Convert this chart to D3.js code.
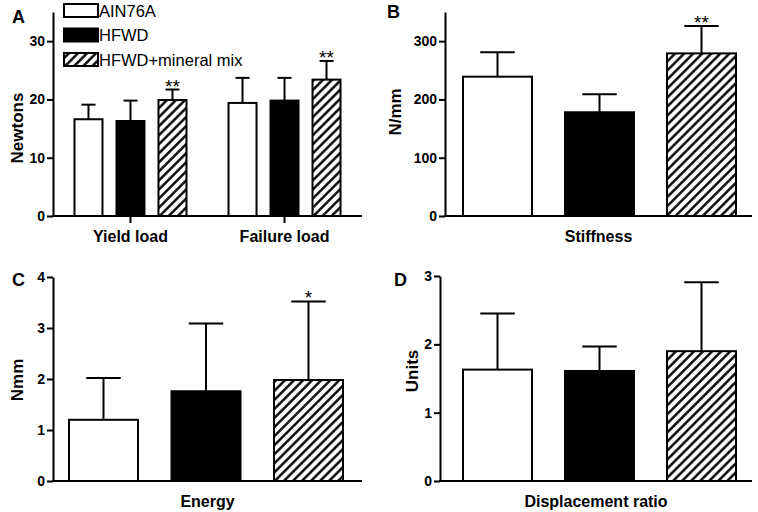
<!DOCTYPE html>
<html><head><meta charset="utf-8">
<script src="https://cdn.jsdelivr.net/npm/d3@7"></script>
<style>
html,body{margin:0;padding:0;background:#fff;}
svg text{font-family:"Liberation Sans",Arial,sans-serif;}
</style></head>
<body>
<svg id="chart" width="758" height="512"></svg>
<script>
// ---- data ----
const series = ["AIN76A", "HFWD", "HFWD+mineral mix"];
const groupsA = ["Yield load", "Failure load"];
const meanA = [[16.6, 16.3, 19.9], [19.4, 19.8, 23.4]];
const errA  = [[2.5, 3.5, 1.8], [4.3, 3.9, 3.2]];
const sigA  = [["", "", "**"], ["", "", "**"]];
const ticksA = [0, 10, 20, 30];

const groupsB = ["Stiffness"];
const meanB = [[239, 178, 279]];
const errB  = [[42, 31, 47]];
const sigB  = [["", "", "**"]];
const ticksB = [0, 100, 200, 300];

const groupsC = ["Energy"];
const meanC = [[1.2, 1.76, 1.98]];
const errC  = [[0.82, 1.33, 1.54]];
const sigC  = [["", "", "*"]];
const ticksC = [0, 1, 2, 3, 4];

const groupsD = ["Displacement ratio"];
const meanD = [[1.63, 1.61, 1.90]];
const errD  = [[0.82, 0.36, 1.01]];
const sigD  = [["", "", ""]];
const ticksD = [0, 1, 2, 3];

const svg = d3.select("#chart");
const defs = svg.append("defs");
const P = 6.4;
const pat = defs.append("pattern").attr("id","hatch").attr("patternUnits","userSpaceOnUse")
  .attr("width",P).attr("height",P).attr("patternTransform","rotate(45)");
pat.append("rect").attr("width",P).attr("height",P).attr("fill","#fff");
pat.append("line").attr("x1",P/2).attr("y1",0).attr("x2",P/2).attr("y2",P).attr("stroke","#000").attr("stroke-width",2.4);

const fills = ["#fff", "#000", "url(#hatch)"];

function panel(cfg) {
  const g = svg.append("g");
  const y = d3.scaleLinear().domain([0, cfg.max]).range([cfg.y0, cfg.yTop]);
  const xg = d3.scalePoint().domain(cfg.groups).range([cfg.x0, cfg.x1]).padding(cfg.pad);
  const xs = d3.scalePoint().domain(series).range([-cfg.spacing, cfg.spacing]);
  const bw = cfg.bw;

  cfg.groups.forEach((grp, gi) => {
    const cx = xg(grp) + (cfg.shift || 0);
    series.forEach((s, si) => {
      const xc = cx + xs(s);
      const v = cfg.mean[gi][si], e = cfg.err[gi][si];
      g.append("line").attr("x1", xc).attr("x2", xc).attr("y1", y(v)).attr("y2", y(v + e))
        .attr("stroke", "#000").attr("stroke-width", 2);
      g.append("line").attr("x1", xc - bw/4).attr("x2", xc + bw/4).attr("y1", y(v + e)).attr("y2", y(v + e))
        .attr("stroke", "#000").attr("stroke-width", 2);
      g.append("rect").attr("x", xc - bw/2).attr("y", y(v)).attr("width", bw).attr("height", y(0) - y(v))
        .attr("fill", fills[si]).attr("stroke", "#000").attr("stroke-width", 2);
      if (cfg.sig[gi][si]) {
        g.append("text").attr("x", xc).attr("y", y(v + e) + 3).attr("text-anchor", "middle")
          .attr("font-size", 19).text(cfg.sig[gi][si]);
      }
    });
    if (cfg.xtick) {
      g.append("line").attr("x1", xg(grp)).attr("x2", xg(grp)).attr("y1", cfg.y0).attr("y2", cfg.y0 + 7)
        .attr("stroke", "#000").attr("stroke-width", 2);
    }
    g.append("text").attr("x", xg(grp) + (cfg.labShift || 0)).attr("y", cfg.y0 + 26).attr("text-anchor", "middle")
      .attr("font-size", 16).attr("font-weight", "bold").text(grp);
  });

  const ax = g.append("g").attr("transform", `translate(${cfg.x0},0)`)
    .call(d3.axisLeft(y).tickValues(cfg.ticks).tickSize(6).tickSizeOuter(0).tickFormat(d3.format("d")));
  ax.select(".domain").attr("stroke-width", 2);
  ax.selectAll(".tick line").attr("stroke-width", 2);
  ax.selectAll(".tick text").attr("font-size", 14).attr("font-weight", "bold")
    .attr("font-family", "Liberation Sans, Arial, sans-serif").attr("x", -8).attr("fill", "#000");
  g.append("line").attr("x1", cfg.x0 - 1).attr("x2", cfg.x1).attr("y1", cfg.y0).attr("y2", cfg.y0)
    .attr("stroke", "#000").attr("stroke-width", 2);

  g.append("text").attr("transform", `translate(${cfg.ylabX},${cfg.ylabY}) rotate(-90)`)
    .attr("text-anchor", "middle").attr("font-size", 17).attr("font-weight", "bold").text(cfg.ylab);
  g.append("text").attr("x", cfg.letterX).attr("y", cfg.letterY).attr("font-size", 18)
    .attr("font-weight", "bold").text(cfg.letter);
}

panel({groups: groupsA, mean: meanA, err: errA, sig: sigA, ticks: ticksA, max: 35,
  x0: 53, x1: 362, yTop: 12, y0: 216, pad: 0.503, spacing: 42, bw: 28, xtick: true,
  ylab: "Newtons", ylabX: 23, ylabY: 128, letter: "A", letterX: 12, letterY: 23});
panel({groups: groupsB, mean: meanB, err: errB, sig: sigB, ticks: ticksB, max: 350,
  x0: 445, x1: 752, yTop: 12, y0: 216, pad: 0.5, spacing: 102, bw: 69, shift: 1,
  ylab: "N/mm", ylabX: 401, ylabY: 112, letter: "B", letterX: 387, letterY: 18});
panel({groups: groupsC, mean: meanC, err: errC, sig: sigC, ticks: ticksC, max: 4,
  x0: 53, x1: 362, yTop: 277, y0: 481, pad: 0.5, spacing: 102.5, bw: 69, shift: -1.5,
  ylab: "Nmm", ylabX: 23, ylabY: 380, letter: "C", letterX: 12, letterY: 286});
panel({groups: groupsD, mean: meanD, err: errD, sig: sigD, ticks: ticksD, max: 3,
  x0: 440, x1: 752, yTop: 276, y0: 481, pad: 0.5, spacing: 102, bw: 69, shift: 3.5,
  ylab: "Units", ylabX: 418, ylabY: 371, letter: "D", letterX: 394, letterY: 286});

const leg = svg.append("g");
series.forEach((s, i) => {
  const ly = 4 + i * 24.5;
  leg.append("rect").attr("x", 64).attr("y", ly).attr("width", 34).attr("height", 13)
    .attr("fill", fills[i]).attr("stroke", "#000").attr("stroke-width", 2);
  leg.append("text").attr("x", 99).attr("y", ly + 12.5).attr("font-size", 16.5).text(s);
});
</script>
</body></html>
